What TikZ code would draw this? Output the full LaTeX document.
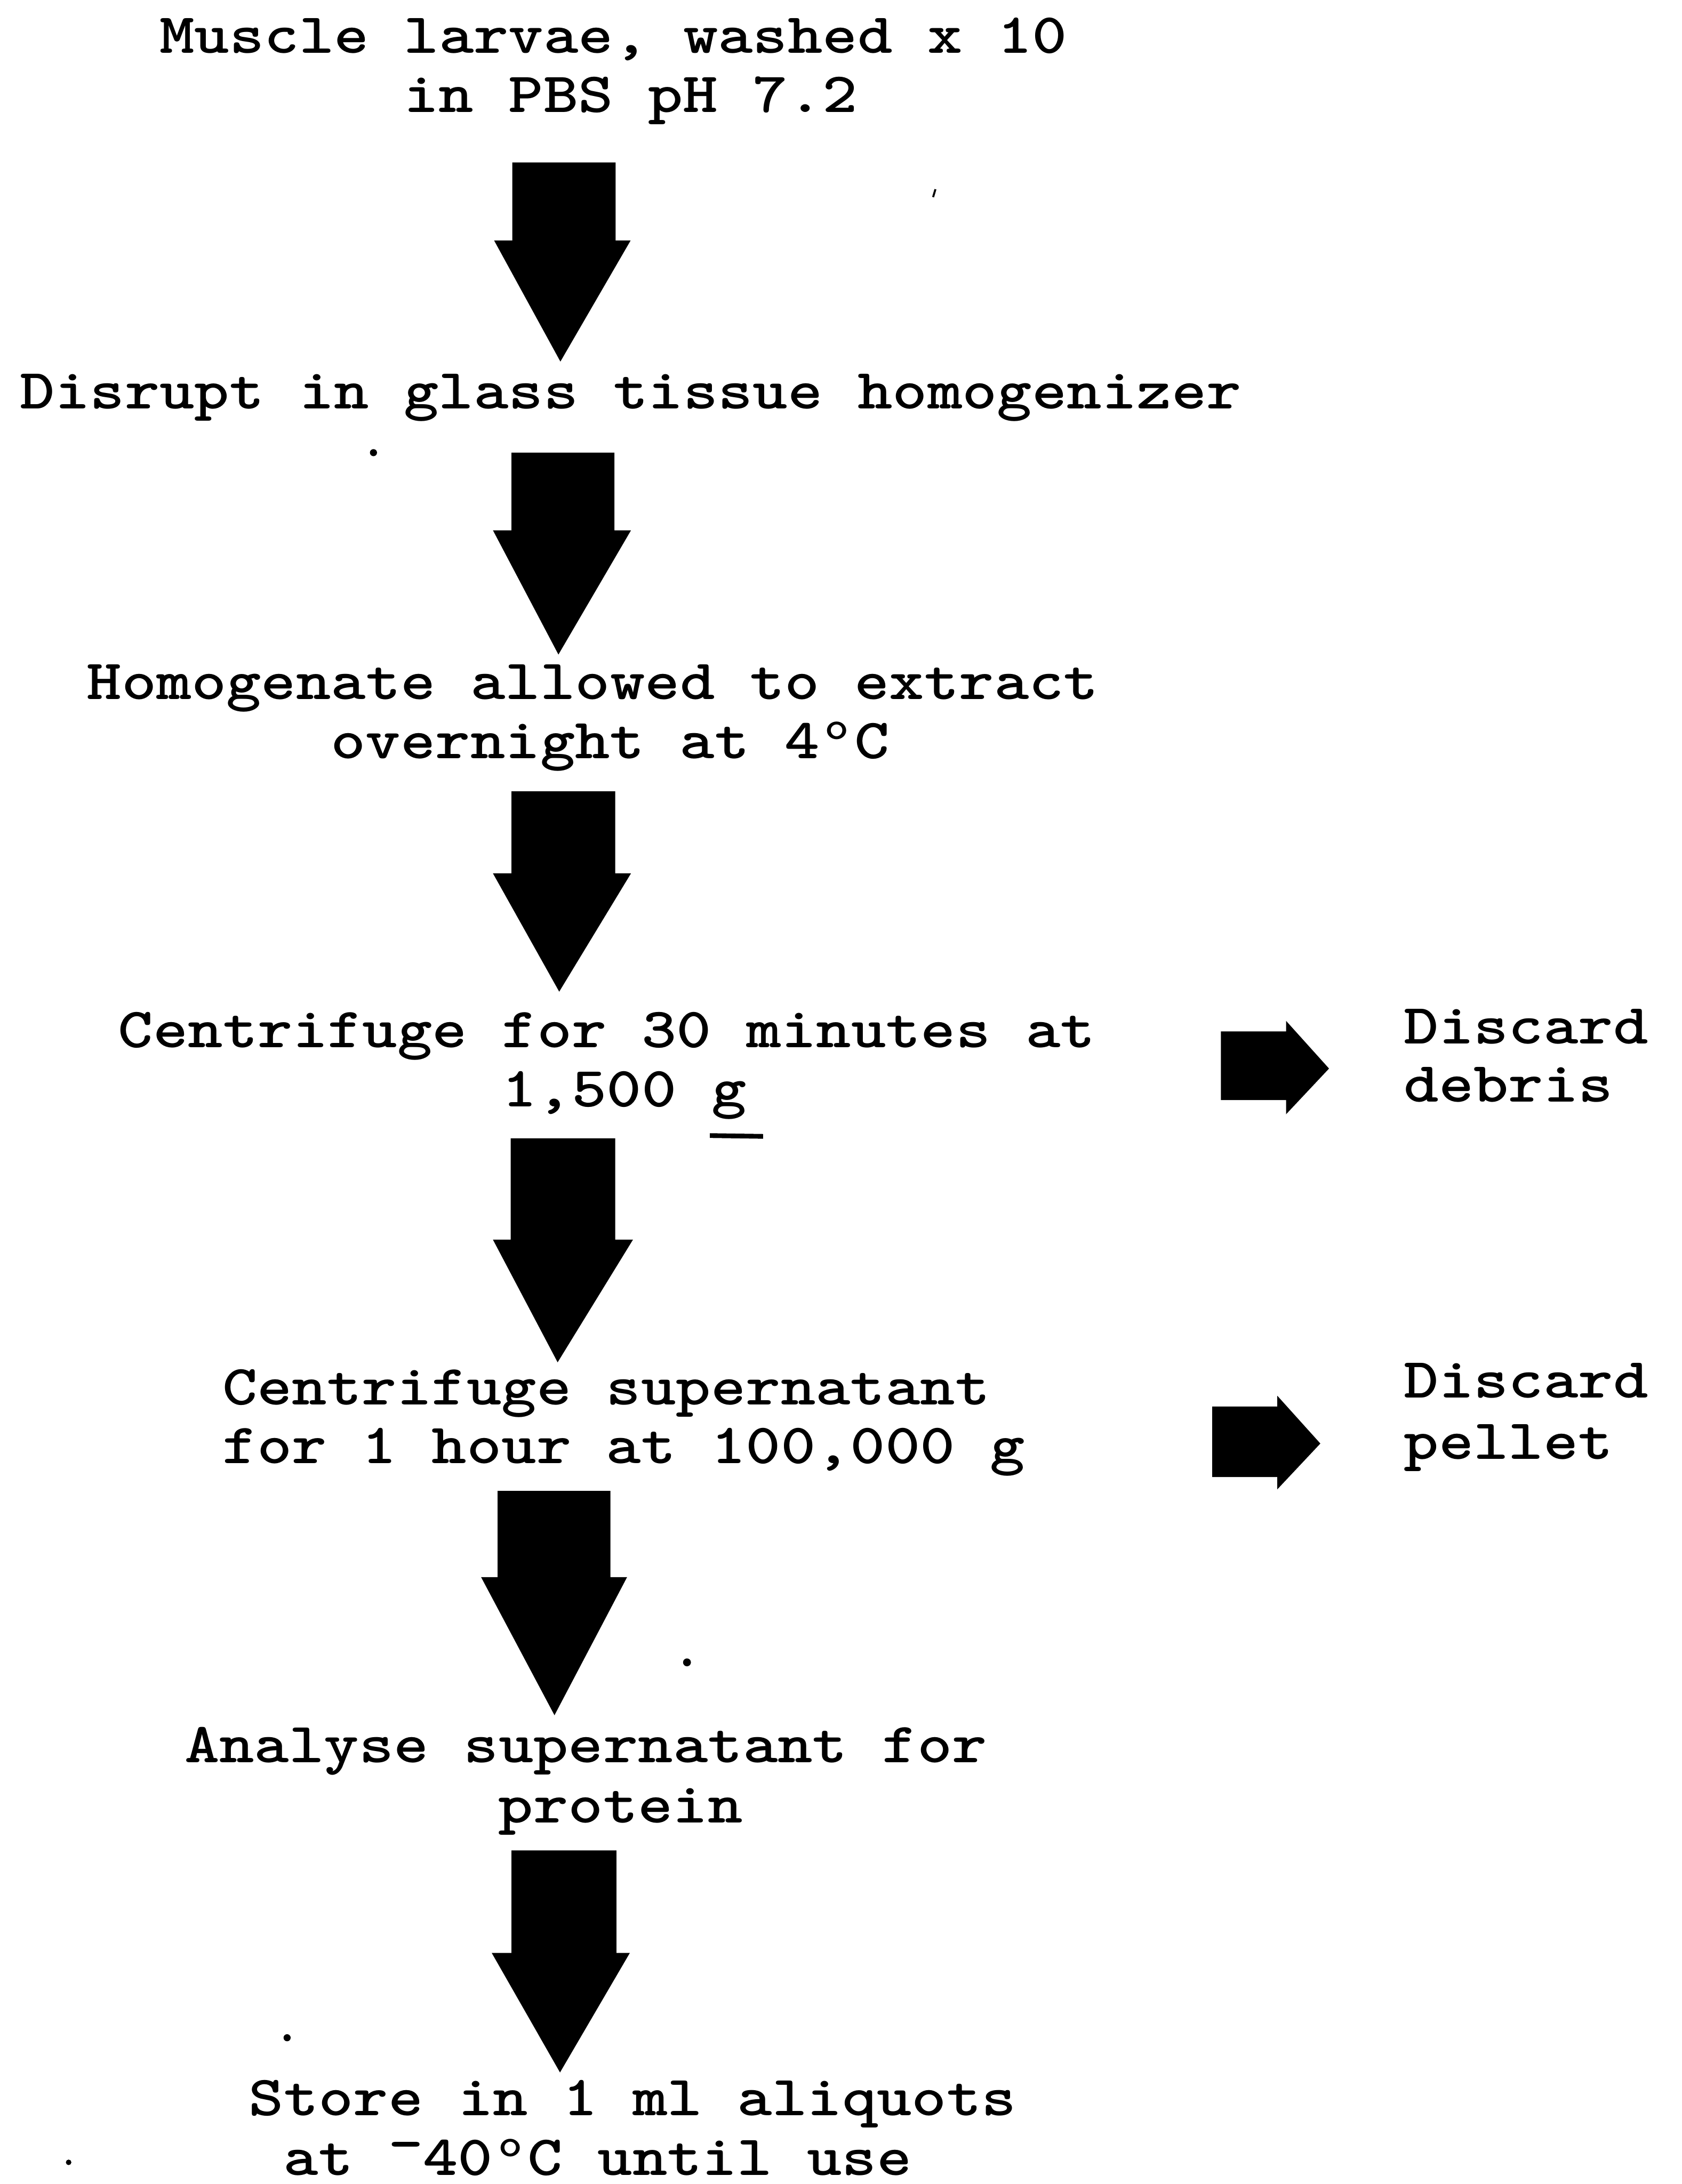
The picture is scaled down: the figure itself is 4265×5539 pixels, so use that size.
\documentclass[tikz,border=0pt]{standalone}
\usepackage{graphicx}
\newcommand\twx[1]{\scalebox{1.1706}[1]{#1}}
\newcommand\supo{\makebox[\fontcharwd\font`\M][c]{\smash{\raisebox{4.8pt}{\fontsize{10}{11}\selectfont o}}}}
\newcommand\supminus{\smash{\raisebox{3.4pt}{-}}}
% down block arrow: shaft left, shaft right, head left, head right, top, shoulder, tip x, tip y
\newcommand\darrow[8]{\fill[black] (#1,#5) -- (#2,#5) -- (#2,#6) -- (#4,#6) -- (#7,#8) -- (#3,#6) -- (#1,#6) -- cycle;}
% right block arrow: shaft left, head x, shaft top, shaft bottom, head top, head bottom, tip x, tip y
\newcommand\rarrow[8]{\fill[black] (#1,#3) -- (#2,#3) -- (#2,#5) -- (#7,#8) -- (#2,#6) -- (#2,#4) -- (#1,#4) -- cycle;}
\begin{document}
\begin{tikzpicture}[x=0.1pt,y=-0.1pt,
  tw/.style={font=\fontsize{14.4}{17}\selectfont\ttfamily\bfseries, inner sep=0pt, anchor=base west}]
\fill[white] (0,0) rectangle (4265,5539);
\useasboundingbox (0,0) rectangle (4265,5539);

% step texts
\node[tw] (s1a) at (403,135) {\twx{Muscle larvae, washed x 10}};
\node[tw] (s1b) at (1022,285) {\twx{in PBS pH 7.2}};
\node[tw] (s2) at (49,1037) {\twx{Disrupt in glass tissue homogenizer}};
\node[tw] (s3a) at (218,1773) {\twx{Homogenate allowed to extract}};
\node[tw] (s3b) at (837,1923) {\twx{overnight at 4\supo C}};
\node[tw] (s4a) at (298,2657) {\twx{Centrifuge for 30 minutes at}};
\node[tw] (s4b) at (1271,2807) {\twx{1,500 g}};
\node[tw] (s5a) at (562,3562) {\twx{Centrifuge supernatant}};
\node[tw] (s5b) at (562,3712) {\twx{for 1 hour at 100,000 g}};
\node[tw] (s6a) at (466,4470) {\twx{Analyse supernatant for}};
\node[tw] (s6b) at (1262,4623) {\twx{protein}};
\node[tw] (s7a) at (629,5365) {\twx{Store in 1 ml aliquots}};
\node[tw] (s7b) at (717,5517) {\twx{at \supminus40\supo C until use}};

% side texts
\node[tw] (d1a) at (3558,2647) {\twx{Discard}};
\node[tw] (d1b) at (3558,2795) {\twx{debris}};
\node[tw] (d2a) at (3558,3545) {\twx{Discard}};
\node[tw] (d2b) at (3558,3701) {\twx{pellet}};

% underline of g
\draw[line width=1.2pt] (1800,2880) -- (1935,2882);

% down arrows
\darrow{1299}{1561}{1253}{1599}{412}{610}{1421}{917}
\darrow{1297}{1558}{1250}{1600}{1148}{1345}{1416}{1660}
\darrow{1297}{1560}{1250}{1600}{2007}{2215}{1418}{2515}
\darrow{1295}{1560}{1250}{1605}{2887}{3144}{1414}{3455}
\darrow{1262}{1548}{1220}{1590}{3781}{4000}{1406}{4350}
\darrow{1297}{1563}{1247}{1597}{4693}{4953}{1420}{5256}

% side arrows
\rarrow{3096}{3261}{2616}{2790}{2589}{2826}{3370}{2710}
\rarrow{3074}{3239}{3567}{3746}{3540}{3777}{3348}{3661}

% stray specks
\fill (947,1148) circle (9);
\fill (1742,4216) circle (10);
\fill (728,5168) circle (9);
\fill (174,5484) circle (7);
\draw[line width=0.5pt] (2366,500) -- (2372,480);
\end{tikzpicture}
\end{document}
